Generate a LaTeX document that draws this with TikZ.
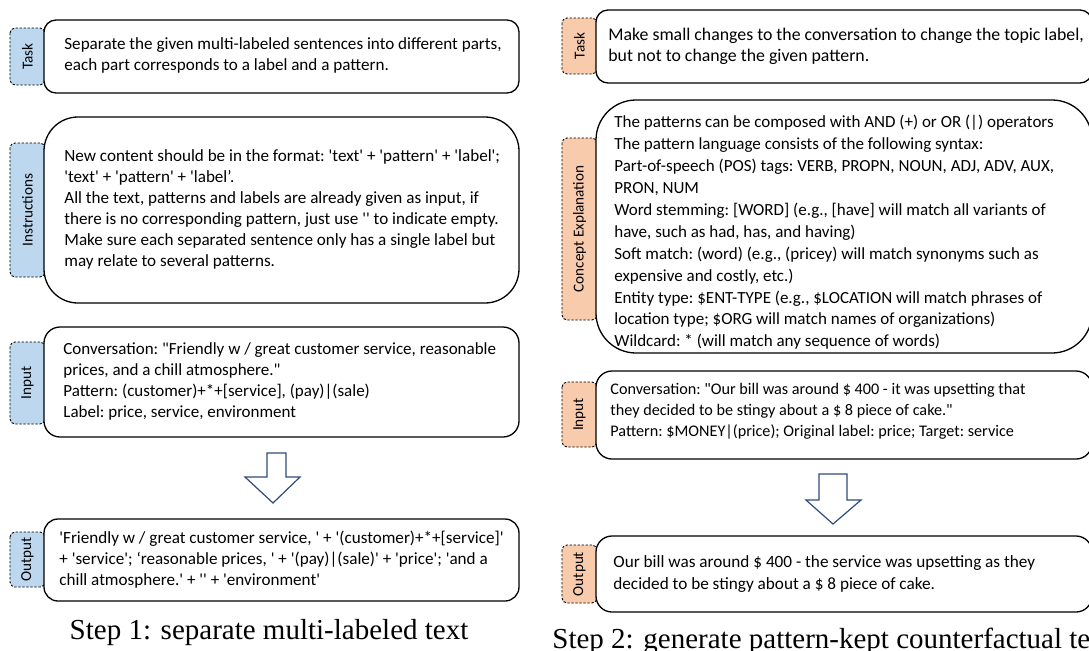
\documentclass[tikz,border=0pt]{standalone}
\usepackage{fontspec}
\setmainfont{Carlito}[Ligatures=TeXOff]
\newfontfamily\capfont{Liberation Serif}
\definecolor{tabblue}{HTML}{BDD7EE}
\definecolor{taborange}{HTML}{F8CBAD}
\definecolor{arrowblue}{HTML}{2F4B7C}
\begin{document}
\begin{tikzpicture}[x=0.5pt, y=-0.5pt,
  box/.style={draw, line width=0.65pt, fill=white, inner sep=0pt},
  lbox/.style={box, minimum width=237.5pt},
  rbox/.style={box, minimum width=248pt},
  ltext/.style={anchor=west, align=left, inner sep=0pt,
    font=\fontsize{8.55}{10.5}\selectfont\frenchspacing},
  rtext/.style={anchor=west, align=left, inner sep=0pt,
    font=\fontsize{8.6}{10.8}\selectfont\frenchspacing},
  tab/.style={draw, dashed, dash pattern=on 1.2pt off 0.8pt, line width=0.45pt,
    rounded corners=2.5pt, rotate=90, minimum height=17.5pt, inner sep=1pt,
    font=\fontsize{7.6}{8}\selectfont},
  caption/.style={font=\capfont\fontsize{14.5}{16}\selectfont, inner sep=0pt},
  hollow/.style={draw=arrowblue, line width=0.6pt, fill=white, line join=miter}]
\useasboundingbox (0,0) rectangle (1089,650);
\clip (0,0) rectangle (1089,650);

\node[tab, fill=tabblue, minimum width=28.5pt] (task1tab) at (27.5,56.5) {Task};
\node[tab, fill=tabblue, minimum width=67pt] (instr1tab) at (27.5,210) {Instructions};
\node[tab, fill=tabblue, minimum width=41pt] (in1tab) at (27.5,383) {Input};
\node[tab, fill=tabblue, minimum width=27.5pt] (out1tab) at (27.5,559.5) {Output};

\node[lbox, rounded corners=6pt, minimum height=36.5pt] (task1) at (281.5,56.5) {};
\node[lbox, rounded corners=17pt, minimum height=93pt] (instr1) at (281.5,210) {};
\node[lbox, rounded corners=8pt, minimum height=55pt] (in1) at (281.5,382) {};
\node[lbox, rounded corners=7pt, minimum height=41pt] (out1) at (281.5,560) {};

\node[ltext] (task1text) at (64,55)
  {Separate the given multi-labeled sentences into different parts,\\
   each part corresponds to a label and a pattern.};
\node[ltext] (instr1text) at (64,209.5)
  {New content should be in the format: 'text' + 'pattern' + 'label';\\
   'text' + 'pattern' + 'label’.\\
   All the text, patterns and labels are already given as input, if\\
   there is no corresponding pattern, just use '' to indicate empty.\\
   Make sure each separated sentence only has a single label but\\
   may relate to several patterns.};
\node[ltext, font=\fontsize{8.5}{10.5}\selectfont\frenchspacing] (in1text) at (63,381)
  {Conversation: "Friendly w / great customer service, reasonable\\
   prices, and a chill atmosphere."\\
   Pattern: (customer)+*+[service], (pay)|(sale)\\
   Label: price, service, environment};
\node[ltext] (out1text) at (59,560)
  {'Friendly w / great customer service, ' + '(customer)+*+[service]'\\
   + 'service'; ‘reasonable prices, ' + '(pay)|(sale)' + 'price'; 'and a\\
   chill atmosphere.' + '' + 'environment'};

\draw[hollow] (267,453) -- (286,453) -- (286,477) -- (300,477) -- (273,503)
  -- (245,477) -- (267,477) -- cycle;
\node[caption, anchor=base] (cap1) at (269,639) {Step 1: separate multi-labeled text};

\node[tab, fill=taborange, minimum width=28pt] (task2tab) at (579.5,46) {Task};
\node[tab, fill=taborange, minimum width=91pt] (concept2tab) at (579.5,229) {Concept Explanation};
\node[tab, fill=taborange, minimum width=32.5pt] (in2tab) at (579.5,414.5) {Input};
\node[tab, fill=taborange, minimum width=29pt] (out2tab) at (579.5,574) {Output};

\node[rbox, rounded corners=6pt, minimum height=36.5pt] (task2) at (844,46.5) {};
\node[rbox, rounded corners=20pt, minimum height=126.5pt] (concept2) at (844,226.5) {};
\node[rbox, rounded corners=8pt, minimum height=44pt] (in2) at (844,415) {};
\node[rbox, rounded corners=8pt, minimum height=38pt] (out2) at (844,574) {};

\node[rtext, font=\fontsize{8.9}{10.5}\selectfont\frenchspacing] (task2text) at (608,46)
  {Make small changes to the conversation to change the topic label,\\
   but not to change the given pattern.};
\node[rtext, font=\fontsize{8.5}{10.95}\selectfont\frenchspacing] (concept2text) at (614,232.5)
  {The patterns can be composed with AND (+) or OR (|) operators\\
   The pattern language consists of the following syntax:\\
   Part-of-speech (POS) tags: VERB, PROPN, NOUN, ADJ, ADV, AUX,\\
   PRON, NUM\\
   Word stemming: [WORD] (e.g., [have] will match all variants of\\
   have, such as had, has, and having)\\
   Soft match: (word) (e.g., (pricey) will match synonyms such as\\
   expensive and costly, etc.)\\
   Entity type: \$ENT-TYPE (e.g., \$LOCATION will match phrases of\\
   location type; \$ORG will match names of organizations)\\
   Wildcard: * (will match any sequence of words)};
\node[rtext, font=\fontsize{8.1}{10.5}\selectfont\frenchspacing] (in2text) at (610,411)
  {Conversation: "Our bill was around \$ 400 - it was upsetting that\\
   they decided to be stingy about a \$ 8 piece of cake."\\
   Pattern: \$MONEY|(price); Original label: price; Target: service};
\node[rtext] (out2text) at (613,574)
  {Our bill was around \$ 400 - the service was upsetting as they\\
   decided to be stingy about a \$ 8 piece of cake.};

\draw[hollow] (819,474) -- (847,474) -- (847,500) -- (861,500) -- (833,524)
  -- (806,500) -- (819,500) -- cycle;
\node[caption, anchor=base west] (cap2) at (552,648) {Step 2: generate pattern-kept counterfactual text};
\end{tikzpicture}
\end{document}
